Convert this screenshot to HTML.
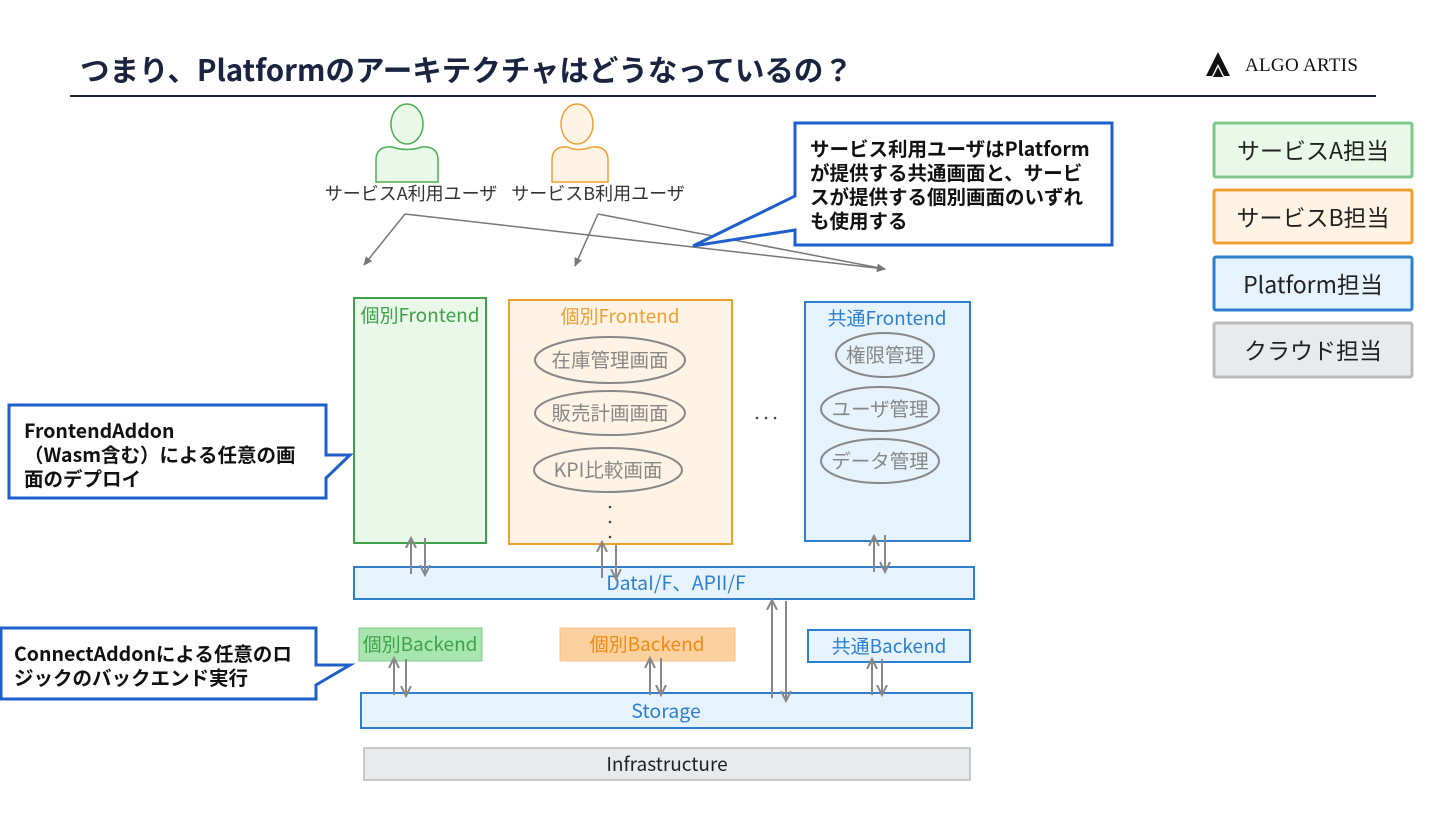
<!DOCTYPE html>
<html><head><meta charset="utf-8"><style>
body{margin:0;background:#fff;}
svg text{font-family:"Noto Sans CJK JP","Liberation Sans",sans-serif;}
</style></head><body>
<svg width="1440" height="810" viewBox="0 0 1440 810" xmlns="http://www.w3.org/2000/svg">
<defs>
<marker id="ah" markerWidth="10" markerHeight="10" refX="8" refY="5" orient="auto" markerUnits="userSpaceOnUse"><path d="M0,1 L9,5 L0,9 Z" fill="#777"/></marker>
<marker id="av" markerWidth="12" markerHeight="12" refX="10" refY="6" orient="auto" markerUnits="userSpaceOnUse"><path d="M0,1 L10,6 L0,11" fill="none" stroke="#888" stroke-width="2"/></marker>
</defs>
<text x="80" y="81" font-size="29.5" font-weight="bold" fill="#1a2340">つまり、Platformのアーキテクチャはどうなっているの？</text>
<line x1="70" y1="96" x2="1376" y2="96" stroke="#1a2340" stroke-width="2"/>
<!-- logo -->
<path d="M1218,52 L1230,76 L1224,76 L1218,64 L1212,76 L1206,76 Z" fill="#111"/>
<path d="M1218,67 L1223,77 L1213,77 Z" fill="#111"/>
<text x="1245" y="71" font-size="19" fill="#111" style="font-family:'Liberation Serif',serif;letter-spacing:0.3px">ALGO ARTIS</text>
<!-- legend -->
<g font-size="23" fill="#222" text-anchor="middle">
<rect x="1214" y="123" width="198" height="54" fill="#eaf8ea" stroke="#80c88a" stroke-width="3" rx="2"/><text x="1313" y="159">サービスA担当</text>
<rect x="1214" y="190" width="198" height="53" fill="#fff3e6" stroke="#f0a030" stroke-width="3" rx="2"/><text x="1313" y="226">サービスB担当</text>
<rect x="1214" y="257" width="198" height="53" fill="#e6f3fc" stroke="#2e7fd0" stroke-width="3" rx="2"/><text x="1313" y="293">Platform担当</text>
<rect x="1214" y="323" width="198" height="54" fill="#e8eaed" stroke="#bbb" stroke-width="3" rx="2"/><text x="1313" y="359">クラウド担当</text>
</g>
<!-- users -->
<ellipse cx="407" cy="124" rx="16" ry="20" fill="#eaf8ea" stroke="#4caf50" stroke-width="1.5"/>
<path d="M376,182 L376,160 Q376,146 392,147 Q407,152 422,147 Q438,146 438,160 L438,182 Z" fill="#eaf8ea" stroke="#4caf50" stroke-width="1.5"/>
<ellipse cx="577" cy="124" rx="16" ry="20" fill="#fff3e6" stroke="#f0a030" stroke-width="1.5"/>
<path d="M552,182 L552,160 Q552,146 568,147 Q577,152 592,147 Q608,146 608,160 L608,182 Z" fill="#fff3e6" stroke="#f0a030" stroke-width="1.5"/>
<text x="411" y="200" font-size="18" fill="#333" text-anchor="middle">サービスA利用ユーザ</text>
<text x="598" y="200" font-size="18" fill="#333" text-anchor="middle">サービスB利用ユーザ</text>
<g stroke="#777" stroke-width="1.5" marker-end="url(#ah)">
<line x1="405" y1="214" x2="364" y2="265"/>
<line x1="405" y1="214" x2="885" y2="269"/>
<line x1="598" y1="214" x2="575" y2="266"/>
<line x1="598" y1="214" x2="885" y2="269"/>
</g>
<!-- top callout -->
<path d="M795,123 L1112,123 L1112,245 L795,245 L795,230 L693,246 L795,196 Z" fill="#fff" stroke="#1f5fcc" stroke-width="3"/>
<g font-size="19.5" font-weight="bold" fill="#111">
<text x="810" y="156">サービス利用ユーザはPlatform</text>
<text x="810" y="180">が提供する共通画面と、サービ</text>
<text x="810" y="204">スが提供する個別画面のいずれ</text>
<text x="810" y="228">も使用する</text>
</g>
<!-- frontends -->
<rect x="354" y="298" width="132" height="245" fill="#eaf8ea" stroke="#3ea24a" stroke-width="2"/>
<text x="420" y="322" font-size="19" fill="#3ea24a" text-anchor="middle">個別Frontend</text>
<rect x="509" y="300" width="223" height="244" fill="#fff3e6" stroke="#f0a030" stroke-width="2"/>
<text x="620" y="323" font-size="19" fill="#f0a030" text-anchor="middle">個別Frontend</text>
<g fill="none" stroke="#888" stroke-width="2">
<ellipse cx="610" cy="360" rx="75" ry="23"/><ellipse cx="610" cy="413" rx="75" ry="22"/><ellipse cx="608" cy="470" rx="74" ry="22"/>
</g>
<g font-size="19.5" fill="#888" text-anchor="middle">
<text x="610" y="367">在庫管理画面</text><text x="610" y="420">販売計画画面</text><text x="608" y="477">KPI比較画面</text>
</g>
<g fill="#444"><circle cx="610" cy="507" r="1.3"/><circle cx="610" cy="522" r="1.3"/><circle cx="610" cy="537" r="1.3"/>
<circle cx="757" cy="418" r="1.3"/><circle cx="766" cy="418" r="1.3"/><circle cx="775" cy="418" r="1.3"/>
<circle cx="880" cy="495" r="1.3"/><circle cx="880" cy="510" r="1.3"/><circle cx="880" cy="526" r="1.3"/></g>
<rect x="805" y="302" width="165" height="239" fill="#e6f3fc" stroke="#2e7fd0" stroke-width="2"/>
<text x="887" y="325" font-size="19" fill="#2e7fd0" text-anchor="middle">共通Frontend</text>
<g fill="none" stroke="#888" stroke-width="2">
<ellipse cx="885" cy="355" rx="49" ry="22"/><ellipse cx="880" cy="409" rx="59" ry="22"/><ellipse cx="880" cy="461" rx="59" ry="22"/>
</g>
<g font-size="19.5" fill="#888" text-anchor="middle">
<text x="885" y="362">権限管理</text><text x="880" y="416">ユーザ管理</text><text x="880" y="468">データ管理</text>
</g>
<!-- data bar -->
<rect x="354" y="567" width="620" height="32" fill="#e6f3fc" stroke="#2e7fd0" stroke-width="2"/>
<text x="676" y="590" font-size="19.5" fill="#2e7fd0" text-anchor="middle">DataI/F、APII/F</text>
<!-- backends -->
<rect x="359" y="628" width="123" height="33" fill="#a8e6b0" stroke="#80c88a" stroke-width="1"/>
<text x="420" y="651" font-size="19" fill="#3ea24a" text-anchor="middle">個別Backend</text>
<rect x="560" y="628" width="175" height="33" fill="#fdd0a0" stroke="#f5c090" stroke-width="1"/>
<text x="647" y="651" font-size="19" fill="#f08a10" text-anchor="middle">個別Backend</text>
<rect x="808" y="630" width="162" height="32" fill="#e6f3fc" stroke="#2e7fd0" stroke-width="2"/>
<text x="889" y="653" font-size="19" fill="#2e7fd0" text-anchor="middle">共通Backend</text>
<rect x="361" y="693" width="611" height="35" fill="#e6f3fc" stroke="#2e7fd0" stroke-width="2"/>
<text x="666" y="718" font-size="19.5" fill="#2e7fd0" text-anchor="middle">Storage</text>
<rect x="364" y="748" width="606" height="32" fill="#e8eaed" stroke="#bbb" stroke-width="1.5"/>
<text x="667" y="771" font-size="19" fill="#222" text-anchor="middle">Infrastructure</text>
<!-- vertical arrows -->
<g stroke="#888" stroke-width="2" marker-end="url(#av)">
<line x1="411" y1="574" x2="411" y2="538"/><line x1="425" y1="538" x2="425" y2="575"/>
<line x1="602" y1="578" x2="602" y2="542"/><line x1="616" y1="545" x2="616" y2="579"/>
<line x1="874" y1="572" x2="874" y2="536"/><line x1="885" y1="535" x2="885" y2="572"/>
<line x1="394" y1="695" x2="394" y2="658"/><line x1="406" y1="659" x2="406" y2="696"/>
<line x1="650" y1="695" x2="650" y2="658"/><line x1="661" y1="658" x2="661" y2="695"/>
<line x1="772" y1="698" x2="772" y2="600"/><line x1="786" y1="601" x2="786" y2="701"/>
<line x1="872" y1="695" x2="872" y2="659"/><line x1="882" y1="659" x2="882" y2="695"/>
</g>
<!-- left callouts -->
<path d="M9,405 L326,405 L326,455 L350,455 L326,478 L326,498 L9,498 Z" fill="#fff" stroke="#1f5fcc" stroke-width="3"/>
<g font-size="19.5" font-weight="bold" fill="#111">
<text x="24" y="438">FrontendAddon</text>
<text x="24" y="462">（Wasm含む）による任意の画</text>
<text x="24" y="486">面のデプロイ</text>
</g>
<path d="M1,628 L316,628 L316,665 L350,665 L316,685 L316,699 L1,699 Z" fill="#fff" stroke="#1f5fcc" stroke-width="3"/>
<g font-size="19.5" font-weight="bold" fill="#111">
<text x="14" y="661">ConnectAddonによる任意のロ</text>
<text x="14" y="685">ジックのバックエンド実行</text>
</g>
</svg>
</body></html>
